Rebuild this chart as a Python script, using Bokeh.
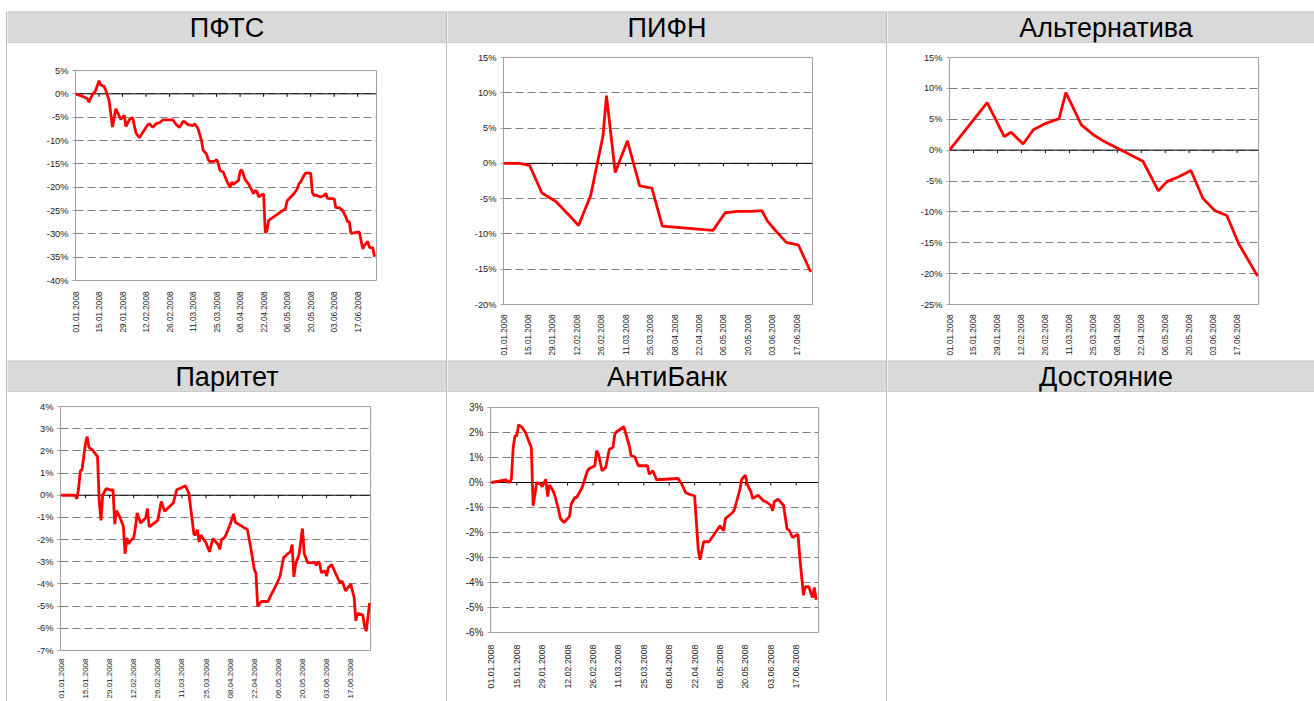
import math
from bokeh.plotting import figure
from bokeh.layouts import row, column
from bokeh.models import Range1d, FixedTicker, Spacer, Span
from bokeh.embed import file_html
from bokeh.resources import INLINE
from bokeh.core.properties import value

# ---------------- data (days since 01.01.2008, percent) ----------------
tick_days = [0, 14, 28, 42, 56, 70, 84, 98, 112, 126, 140, 154, 168]
tick_labels = ["01.01.2008", "15.01.2008", "29.01.2008", "12.02.2008", "26.02.2008",
               "11.03.2008", "25.03.2008", "08.04.2008", "22.04.2008", "06.05.2008",
               "20.05.2008", "03.06.2008", "17.06.2008"]

titles = ["ПФТС", "ПИФН", "Альтернатива", "Паритет", "АнтиБанк", "Достояние"]

pfts_day = [0, 4, 7, 8, 10, 12, 14, 15, 17, 18, 20, 22, 24, 27, 29, 30, 32, 34, 36, 38,
            43, 44, 46, 48, 50, 52, 58, 60, 62, 64, 65, 67, 70, 71, 73, 75, 76, 78, 79, 80,
            83, 84, 85, 86, 88, 90, 92, 93, 94, 95, 97, 98, 99, 101, 103, 104, 106, 107, 108,
            109, 111, 112, 113, 114, 115, 125, 126, 130, 132, 133, 134, 136, 137, 140, 141,
            142, 143, 146, 148, 149, 150, 154, 155, 157, 159, 161, 162, 163, 164, 169, 171,
            172, 174, 175, 177, 178]
pfts_val = [0.0, -0.5, -1.0, -1.8, -0.2, 0.7, 2.8, 1.9, 1.6, 0.8, -1.4, -7.1, -3.2, -5.5,
            -4.6, -7.0, -5.6, -5.1, -8.4, -9.4, -6.6, -6.4, -7.2, -6.4, -6.2, -5.6, -5.6,
            -6.6, -7.2, -5.9, -6.0, -6.6, -6.8, -6.4, -7.5, -10.0, -12.1, -12.9, -14.1, -14.5,
            -14.4, -14.1, -15.0, -16.4, -16.8, -18.6, -20.1, -18.9, -19.4, -19.1, -18.6, -16.6,
            -16.3, -18.4, -19.3, -20.0, -21.4, -20.7, -20.9, -22.1, -21.6, -21.5, -29.8, -29.3,
            -27.1, -24.6, -22.9, -21.4, -20.4, -19.3, -18.9, -17.5, -17.0, -17.0, -21.1, -21.8,
            -21.7, -22.1, -21.8, -21.3, -22.4, -22.5, -24.4, -24.4, -25.0, -26.4, -27.4, -27.4,
            -29.9, -29.6, -33.2, -32.5, -31.6, -32.9, -33.0, -34.9]

pifn_day = [0, 9, 15, 22, 30, 37, 43, 50, 57, 59, 64, 71, 78, 85, 91, 120, 127, 134, 142,
            148, 151, 155, 162, 169, 176]
pifn_val = [0.0, 0.0, -0.3, -4.2, -5.4, -7.2, -8.8, -4.5, 3.9, 9.6, -1.3, 3.2, -3.2, -3.5,
            -8.9, -9.5, -7.0, -6.8, -6.8, -6.7, -8.1, -9.3, -11.2, -11.6, -15.4]

alt_day = [0, 22, 32, 36, 43, 49, 56, 64, 68, 77, 84, 91, 99, 113, 122, 127, 134, 141, 148,
           155, 162, 169, 180]
alt_val = [0.0, 7.7, 2.2, 2.9, 1.0, 3.3, 4.3, 5.1, 9.3, 4.1, 2.5, 1.3, 0.2, -1.8, -6.6, -5.1,
           -4.3, -3.3, -7.8, -9.8, -10.6, -15.2, -20.4]

par_day = [0, 8, 9, 10, 11, 12, 14, 15, 16, 18, 21, 22, 23, 24, 26, 28, 29, 30, 31, 32, 34,
           36, 37, 38, 39, 40, 42, 43, 44, 46, 49, 50, 51, 56, 58, 60, 63, 65, 67, 70, 72, 74,
           77, 78, 79, 80, 81, 84, 86, 88, 91, 92, 93, 95, 98, 100, 101, 108, 110, 112, 113,
           114, 116, 120, 121, 125, 127, 129, 131, 133, 134, 135, 136, 138, 140, 141, 143,
           147, 148, 149, 150, 151, 153, 154, 155, 157, 159, 162, 163, 165, 168, 170, 171,
           172, 175, 176, 177, 178, 179]
par_val = [0.0, 0.0, -0.16, 0.3, 1.1, 1.15, 2.34, 2.64, 2.16, 2.04, 1.74, -0.28, -1.13, 0.0,
           0.3, 0.25, 0.22, 0.26, -1.3, -0.7, -1.0, -1.4, -2.64, -1.92, -2.19, -2.07, -1.92,
           -1.47, -0.8, -1.25, -1.02, -0.6, -1.43, -1.13, -0.28, -0.72, -0.5, -0.35, 0.25,
           0.35, 0.43, 0.1, -1.77, -1.77, -1.55, -2.11, -1.8, -2.14, -2.55, -1.95, -2.22,
           -2.44, -2.0, -1.89, -1.32, -0.84, -1.22, -1.55, -2.37, -3.34, -3.53, -5.01, -4.79,
           -4.79, -4.61, -4.01, -3.64, -2.82, -2.67, -2.55, -2.22, -3.68, -3.11, -2.67, -1.5,
           -2.62, -3.04, -3.04, -3.16, -3.0, -3.09, -3.49, -3.41, -3.64, -3.27, -3.12, -3.49,
           -3.98, -3.86, -4.31, -4.01, -4.61, -5.66, -5.33, -5.39, -5.88, -6.13, -5.51, -4.85]

anti_day = [0, 8, 10, 11, 12, 13, 14, 15, 17, 19, 20, 22, 23, 25, 27, 28, 30, 31, 32, 34, 35,
            37, 38, 40, 43, 44, 45, 46, 47, 50, 51, 53, 54, 57, 58, 59, 61, 63, 65, 67, 68, 69,
            73, 76, 77, 79, 81, 86, 87, 89, 91, 103, 104, 105, 107, 109, 112, 114, 115, 117,
            120, 126, 128, 129, 133, 134, 137, 138, 140, 141, 143, 144, 147, 150, 152, 154,
            155, 156, 158, 161, 163, 164, 166, 169, 170, 172, 173, 175, 176, 177, 178, 179]
anti_val = [0.0, 0.1, 0.0, 0.13, 1.4, 1.87, 1.87, 2.31, 2.2, 1.97, 1.76, 1.4, -0.93, 0.0,
            -0.07, -0.17, 0.13, -0.56, -0.1, -0.33, -0.53, -1.07, -1.43, -1.6, -1.36, -0.87,
            -0.73, -0.6, -0.6, -0.2, 0.03, 0.47, 0.56, 0.67, 1.27, 1.13, 0.47, 0.6, 1.33, 1.4,
            1.93, 2.03, 2.23, 1.47, 1.07, 1.03, 0.67, 0.67, 0.33, 0.47, 0.11, 0.16, 0.03, -0.07,
            -0.4, -0.47, -0.53, -2.67, -3.09, -2.37, -2.37, -1.73, -1.93, -1.44, -1.2, -1.07,
            -0.27, 0.13, 0.29, -0.07, -0.36, -0.64, -0.51, -0.73, -0.8, -0.91, -1.13, -0.76,
            -0.67, -0.91, -1.87, -1.89, -2.2, -2.07, -3.0, -4.51, -4.17, -4.17, -4.4, -4.6,
            -4.2, -4.69]

# ---------------- styling ----------------
FONT = "Liberation Sans"
BORDER = "#7f7f7f"
HEAD_FILL = "#d9d9d9"
GRID = "#808080"
FRAME = "#a0a0a0"
LABEL = "#222222"


def blank(w, h, fill):
    p = figure(width=w, height=h, min_border_left=0, min_border_right=0, min_border_top=0,
               min_border_bottom=0, x_axis_type=None, y_axis_type=None,
               toolbar_location=None, output_backend="svg")
    p.background_fill_color = fill
    p.border_fill_color = fill
    p.outline_line_color = None
    return row(p)


def header(text, w, vw):
    p = figure(width=w, height=32, x_range=Range1d(0, w), y_range=Range1d(0, 30),
               min_border_left=0, min_border_right=0, min_border_top=1, min_border_bottom=1,
               x_axis_type=None, y_axis_type=None, toolbar_location=None,
               output_backend="svg")
    p.background_fill_color = HEAD_FILL
    p.border_fill_color = BORDER
    p.outline_line_color = None
    p.text(x=[vw / 2], y=[15], text=[text], text_align="center", text_baseline="middle",
           text_font=value(FONT), text_font_size="27px", text_color="black")
    return row(p)


def chart(days, vals, w, h, ml, mr, mt, mb, xr, yr, ystep, xfs, yfs, xstand):
    p = figure(width=w, height=h, x_range=Range1d(*xr), y_range=Range1d(*yr),
               min_border_left=ml, min_border_right=mr, min_border_top=mt,
               min_border_bottom=mb, toolbar_location=None, output_backend="svg")
    p.background_fill_color = "white"
    p.border_fill_color = "white"
    p.outline_line_color = FRAME
    p.outline_line_width = 1

    yt = list(range(yr[0], yr[1] + 1, ystep))
    ya = p.yaxis[0]
    ya.ticker = FixedTicker(ticks=yt)
    ya.major_label_overrides = {t: f"{t}%" for t in yt}
    ya.axis_line_color = None
    ya.major_tick_line_color = FRAME
    ya.major_tick_in = 0
    ya.major_tick_out = 3
    ya.minor_tick_line_color = None
    ya.major_label_standoff = 4
    ya.major_label_text_font = FONT
    ya.major_label_text_font_size = yfs
    ya.major_label_text_color = LABEL

    xa = p.xaxis[0]
    xa.ticker = FixedTicker(ticks=tick_days)
    xa.major_label_overrides = dict(zip(tick_days, tick_labels))
    xa.major_label_orientation = math.pi / 2
    xa.axis_line_color = None
    xa.major_tick_line_color = None
    xa.minor_tick_line_color = None
    xa.major_label_standoff = xstand
    xa.major_label_text_font = FONT
    xa.major_label_text_font_size = xfs
    xa.major_label_text_color = LABEL

    p.xgrid.visible = False
    p.ygrid.grid_line_color = GRID
    p.ygrid.grid_line_dash = "8 4"
    p.ygrid.grid_line_width = 1

    p.add_layout(Span(location=0, dimension="width", line_color="black", line_width=1,
                      level="underlay"))
    # small tick marks on the zero line
    fh = h - mt - mb
    tl = 3.0 * (yr[1] - yr[0]) / fh
    p.segment(x0=tick_days[1:], y0=[0] * 12, x1=tick_days[1:], y1=[-tl] * 12,
              line_color="black", line_width=1)
    p.line(days, vals, line_color="#ff0000", line_width=2.8)
    return row(p)


W1, W2, W3 = 439, 439, 427
H1, H2 = 317, 309

c1 = chart(pfts_day, pfts_val, W1, H1, 68, 70, 27, 80, (0, 179.2), (-40, 5), 5, "8.2px", "9.3px", 5)
c2 = chart(pifn_day, pifn_val, W2, H1, 56, 74, 14, 56, (0, 177), (-20, 15), 5, "8.2px", "9.3px", 4)
c3 = chart(alt_day, alt_val, W3, H1, 62, 56, 14, 56, (0, 180.5), (-25, 15), 5, "8.2px", "9.3px", 4)
c4 = chart(par_day, par_val, W1, H2, 53, 76, 14, 49, (-0.5, 179.5), (-7, 4), 1, "8px", "9.3px", 2)
c5 = chart(anti_day, anti_val, W2, H2, 43, 68, 15, 69, (-0.5, 180.3), (-6, 3), 1, "8.8px", "10px", 6)
c6 = blank(W3, H2, "white")

col1 = column(header(titles[0], W1, W1), c1, header(titles[3], W1, W1), c4)
col2 = column(header(titles[1], W2, W2), c2, header(titles[4], W2, W2), c5)
col3 = column(header(titles[2], W3, 437), c3, header(titles[5], W3, 437), c6)

SEP_H = 32 + H1 + 32 + H2
layout = column(Spacer(width=1314, height=11),
                row(Spacer(width=6, height=SEP_H),
                    blank(1, SEP_H, BORDER), col1, blank(1, SEP_H, BORDER), col2,
                    blank(1, SEP_H, BORDER), col3))

open("out.html", "w").write(file_html(layout, INLINE))
